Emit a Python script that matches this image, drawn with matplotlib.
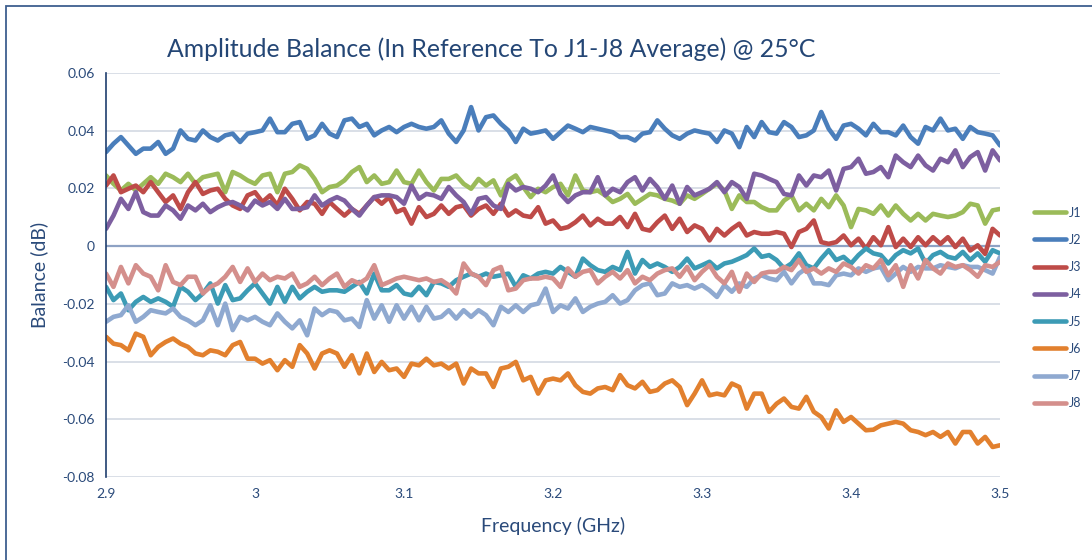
import numpy as np
import matplotlib
matplotlib.use('Agg')
import matplotlib.pyplot as plt
from matplotlib.patches import Rectangle

# frequency sweep 2.9 - 3.5 GHz (121 pts)
freq = np.linspace(2.9, 3.5, 121)

j1 = [0.0245, 0.0216, 0.0193, 0.0216, 0.0193, 0.0216, 0.0239, 0.0216, 0.0251, 0.0239,
      0.0222, 0.0251, 0.0216, 0.0239, 0.0245, 0.0251, 0.0187, 0.0257, 0.0245, 0.0228,
      0.0216, 0.0245, 0.0251, 0.0187, 0.0251, 0.0257, 0.0280, 0.0268, 0.0233, 0.0187,
      0.0205, 0.0210, 0.0228, 0.0257, 0.0274, 0.0222, 0.0245, 0.0216, 0.0222, 0.0262,
      0.0222, 0.0216, 0.0262, 0.0222, 0.0193, 0.0233, 0.0233, 0.0245, 0.0216, 0.0199,
      0.0233, 0.0210, 0.0228, 0.0176, 0.0228, 0.0245, 0.0205, 0.0170, 0.0199, 0.0187,
      0.0205, 0.0216, 0.0176, 0.0245, 0.0193, 0.0187, 0.0193, 0.0176, 0.0153, 0.0164,
      0.0181, 0.0147, 0.0164, 0.0181, 0.0176, 0.0164, 0.0158, 0.0147, 0.0176, 0.0164,
      0.0181, 0.0199, 0.0216, 0.0193, 0.0129, 0.0176, 0.0153, 0.0153, 0.0135, 0.0124,
      0.0124, 0.0158, 0.0176, 0.0124, 0.0147, 0.0124, 0.0164, 0.0135, 0.0176, 0.0141,
      0.0066, 0.0129, 0.0124, 0.0112, 0.0141, 0.0106, 0.0141, 0.0112, 0.0089, 0.0112,
      0.0089, 0.0112, 0.0106, 0.0101, 0.0106, 0.0118, 0.0147, 0.0141, 0.0078, 0.0124,
      0.0129]

j2 = [0.0326, 0.0355, 0.0378, 0.0349, 0.0320, 0.0338, 0.0338, 0.0361, 0.0320, 0.0338,
      0.0401, 0.0372, 0.0366, 0.0401, 0.0378, 0.0366, 0.0384, 0.0390, 0.0361, 0.0390,
      0.0395, 0.0401, 0.0442, 0.0395, 0.0395, 0.0424, 0.0430, 0.0372, 0.0384, 0.0424,
      0.0390, 0.0378, 0.0436, 0.0442, 0.0413, 0.0424, 0.0384, 0.0401, 0.0413, 0.0395,
      0.0413, 0.0424, 0.0413, 0.0407, 0.0413, 0.0436, 0.0390, 0.0361, 0.0401, 0.0482,
      0.0401, 0.0447, 0.0453, 0.0424, 0.0401, 0.0361, 0.0407, 0.0390, 0.0395, 0.0401,
      0.0372, 0.0395, 0.0418, 0.0407, 0.0395, 0.0413, 0.0407, 0.0401, 0.0395, 0.0378,
      0.0378, 0.0366, 0.0390, 0.0395, 0.0436, 0.0407, 0.0384, 0.0372, 0.0390, 0.0401,
      0.0395, 0.0390, 0.0361, 0.0401, 0.0390, 0.0343, 0.0413, 0.0378, 0.0430, 0.0395,
      0.0390, 0.0430, 0.0413, 0.0378, 0.0384, 0.0401, 0.0465, 0.0407, 0.0372, 0.0418,
      0.0424, 0.0407, 0.0384, 0.0424, 0.0395, 0.0395, 0.0384, 0.0418, 0.0378, 0.0355,
      0.0413, 0.0401, 0.0442, 0.0401, 0.0407, 0.0372, 0.0413, 0.0395, 0.0390, 0.0384,
      0.0349]

j3 = [0.0210, 0.0245, 0.0187, 0.0199, 0.0210, 0.0187, 0.0222, 0.0187, 0.0153, 0.0176,
      0.0129, 0.0187, 0.0222, 0.0181, 0.0193, 0.0199, 0.0164, 0.0141, 0.0129, 0.0176,
      0.0187, 0.0153, 0.0176, 0.0141, 0.0199, 0.0164, 0.0124, 0.0153, 0.0147, 0.0112,
      0.0153, 0.0129, 0.0106, 0.0129, 0.0112, 0.0141, 0.0170, 0.0147, 0.0170, 0.0118,
      0.0129, 0.0078, 0.0135, 0.0101, 0.0112, 0.0141, 0.0112, 0.0135, 0.0141, 0.0106,
      0.0129, 0.0141, 0.0112, 0.0147, 0.0106, 0.0124, 0.0106, 0.0101, 0.0135, 0.0078,
      0.0089, 0.0060, 0.0066, 0.0083, 0.0106, 0.0072, 0.0095, 0.0078, 0.0078, 0.0101,
      0.0066, 0.0112, 0.0060, 0.0054, 0.0083, 0.0106, 0.0060, 0.0095, 0.0049, 0.0072,
      0.0060, 0.0020, 0.0060, 0.0037, 0.0060, 0.0078, 0.0037, 0.0049, 0.0043, 0.0043,
      0.0049, 0.0043, -0.0003, 0.0049, 0.0060, 0.0089, 0.0014, 0.0008, 0.0014, 0.0037,
      0.0003, 0.0026, -0.0009, 0.0031, 0.0003, 0.0066, -0.0003, 0.0026, -0.0003, 0.0031,
      0.0003, 0.0031, 0.0008, 0.0031, -0.0003, 0.0026, -0.0015, 0.0003, -0.0027, 0.0060,
      0.0037]

j4 = [0.0060, 0.0106, 0.0164, 0.0129, 0.0187, 0.0118, 0.0106, 0.0106, 0.0141, 0.0124,
      0.0095, 0.0141, 0.0124, 0.0147, 0.0118, 0.0135, 0.0147, 0.0153, 0.0141, 0.0124,
      0.0158, 0.0141, 0.0153, 0.0129, 0.0164, 0.0129, 0.0129, 0.0135, 0.0176, 0.0141,
      0.0158, 0.0170, 0.0158, 0.0129, 0.0106, 0.0141, 0.0170, 0.0176, 0.0176, 0.0170,
      0.0147, 0.0210, 0.0164, 0.0181, 0.0176, 0.0164, 0.0205, 0.0176, 0.0153, 0.0112,
      0.0164, 0.0170, 0.0141, 0.0129, 0.0216, 0.0193, 0.0205, 0.0199, 0.0187, 0.0210,
      0.0245, 0.0181, 0.0153, 0.0176, 0.0187, 0.0187, 0.0239, 0.0176, 0.0199, 0.0187,
      0.0222, 0.0239, 0.0193, 0.0233, 0.0205, 0.0164, 0.0210, 0.0147, 0.0205, 0.0176,
      0.0187, 0.0199, 0.0222, 0.0187, 0.0222, 0.0205, 0.0164, 0.0251, 0.0245, 0.0233,
      0.0222, 0.0181, 0.0176, 0.0245, 0.0210, 0.0245, 0.0239, 0.0262, 0.0193, 0.0268,
      0.0274, 0.0303, 0.0251, 0.0257, 0.0274, 0.0239, 0.0314, 0.0291, 0.0274, 0.0314,
      0.0280, 0.0262, 0.0303, 0.0291, 0.0332, 0.0274, 0.0309, 0.0326, 0.0262, 0.0332,
      0.0297]

j5 = [-0.0141, -0.0187, -0.0164, -0.0222, -0.0193, -0.0176, -0.0193, -0.0181, -0.0193, -0.0210,
      -0.0141, -0.0158, -0.0187, -0.0164, -0.0129, -0.0199, -0.0135, -0.0187, -0.0181, -0.0153,
      -0.0129, -0.0164, -0.0199, -0.0141, -0.0193, -0.0141, -0.0181, -0.0158, -0.0141, -0.0158,
      -0.0153, -0.0153, -0.0158, -0.0141, -0.0124, -0.0164, -0.0095, -0.0153, -0.0153, -0.0135,
      -0.0164, -0.0170, -0.0141, -0.0170, -0.0124, -0.0129, -0.0141, -0.0118, -0.0106, -0.0095,
      -0.0106, -0.0095, -0.0106, -0.0101, -0.0095, -0.0141, -0.0101, -0.0112, -0.0095, -0.0089,
      -0.0095, -0.0072, -0.0089, -0.0106, -0.0043, -0.0066, -0.0083, -0.0089, -0.0072, -0.0083,
      -0.0020, -0.0095, -0.0048, -0.0072, -0.0060, -0.0072, -0.0089, -0.0072, -0.0043, -0.0077,
      -0.0066, -0.0054, -0.0077, -0.0060, -0.0054, -0.0043, -0.0031, -0.0008, -0.0037, -0.0031,
      -0.0048, -0.0077, -0.0060, -0.0025, -0.0066, -0.0077, -0.0043, -0.0014, -0.0048, -0.0037,
      -0.0060, -0.0031, -0.0008, -0.0025, -0.0031, -0.0060, -0.0031, -0.0014, -0.0025, -0.0008,
      -0.0060, -0.0031, -0.0020, -0.0037, -0.0043, -0.0020, -0.0048, -0.0025, -0.0054, -0.0014,
      -0.0025]

j6 = [-0.0314, -0.0338, -0.0343, -0.0361, -0.0303, -0.0314, -0.0378, -0.0349, -0.0332, -0.0320,
      -0.0338, -0.0349, -0.0372, -0.0378, -0.0361, -0.0366, -0.0378, -0.0343, -0.0332, -0.0390,
      -0.0390, -0.0407, -0.0395, -0.0430, -0.0395, -0.0418, -0.0343, -0.0372, -0.0424, -0.0372,
      -0.0361, -0.0372, -0.0418, -0.0378, -0.0441, -0.0372, -0.0436, -0.0401, -0.0430, -0.0424,
      -0.0453, -0.0407, -0.0413, -0.0390, -0.0413, -0.0407, -0.0424, -0.0407, -0.0476, -0.0424,
      -0.0441, -0.0441, -0.0488, -0.0424, -0.0418, -0.0401, -0.0465, -0.0453, -0.0511, -0.0465,
      -0.0459, -0.0465, -0.0441, -0.0482, -0.0505, -0.0511, -0.0493, -0.0488, -0.0499, -0.0447,
      -0.0482, -0.0493, -0.0470, -0.0505, -0.0499, -0.0476, -0.0465, -0.0488, -0.0551, -0.0511,
      -0.0465, -0.0517, -0.0511, -0.0517, -0.0476, -0.0488, -0.0563, -0.0511, -0.0511, -0.0574,
      -0.0546, -0.0528, -0.0557, -0.0563, -0.0522, -0.0574, -0.0592, -0.0632, -0.0569, -0.0609,
      -0.0592, -0.0615, -0.0638, -0.0636, -0.0621, -0.0615, -0.0609, -0.0615, -0.0638, -0.0644,
      -0.0655, -0.0644, -0.0661, -0.0644, -0.0684, -0.0644, -0.0644, -0.0684, -0.0661, -0.0696,
      -0.0690]

j7 = [-0.0262, -0.0245, -0.0239, -0.0205, -0.0262, -0.0245, -0.0222, -0.0228, -0.0233, -0.0216,
      -0.0245, -0.0257, -0.0274, -0.0257, -0.0205, -0.0274, -0.0199, -0.0291, -0.0245, -0.0257,
      -0.0245, -0.0262, -0.0274, -0.0233, -0.0262, -0.0285, -0.0257, -0.0309, -0.0216, -0.0239,
      -0.0222, -0.0228, -0.0257, -0.0251, -0.0280, -0.0187, -0.0251, -0.0205, -0.0262, -0.0205,
      -0.0251, -0.0210, -0.0257, -0.0210, -0.0251, -0.0245, -0.0222, -0.0251, -0.0222, -0.0245,
      -0.0222, -0.0239, -0.0274, -0.0210, -0.0228, -0.0205, -0.0228, -0.0205, -0.0199, -0.0147,
      -0.0228, -0.0205, -0.0216, -0.0181, -0.0228, -0.0210, -0.0199, -0.0193, -0.0170, -0.0199,
      -0.0187, -0.0153, -0.0135, -0.0129, -0.0170, -0.0164, -0.0129, -0.0141, -0.0135, -0.0147,
      -0.0135, -0.0153, -0.0176, -0.0135, -0.0158, -0.0129, -0.0141, -0.0112, -0.0101, -0.0112,
      -0.0118, -0.0089, -0.0129, -0.0095, -0.0077, -0.0129, -0.0129, -0.0135, -0.0101, -0.0095,
      -0.0101, -0.0077, -0.0089, -0.0077, -0.0072, -0.0118, -0.0095, -0.0072, -0.0089, -0.0072,
      -0.0077, -0.0077, -0.0066, -0.0072, -0.0077, -0.0066, -0.0072, -0.0072, -0.0083, -0.0095,
      -0.0037]

j8 = [-0.0095, -0.0141, -0.0072, -0.0129, -0.0066, -0.0095, -0.0106, -0.0153, -0.0066, -0.0124,
      -0.0135, -0.0106, -0.0106, -0.0164, -0.0141, -0.0129, -0.0106, -0.0072, -0.0124, -0.0077,
      -0.0124, -0.0095, -0.0118, -0.0106, -0.0112, -0.0095, -0.0141, -0.0129, -0.0106, -0.0135,
      -0.0112, -0.0095, -0.0141, -0.0118, -0.0129, -0.0112, -0.0066, -0.0135, -0.0124, -0.0112,
      -0.0106, -0.0112, -0.0118, -0.0112, -0.0124, -0.0118, -0.0135, -0.0164, -0.0060, -0.0095,
      -0.0106, -0.0135, -0.0083, -0.0072, -0.0153, -0.0147, -0.0118, -0.0112, -0.0112, -0.0106,
      -0.0112, -0.0141, -0.0077, -0.0106, -0.0089, -0.0083, -0.0129, -0.0106, -0.0089, -0.0112,
      -0.0083, -0.0129, -0.0106, -0.0118, -0.0095, -0.0083, -0.0077, -0.0106, -0.0072, -0.0118,
      -0.0089, -0.0066, -0.0106, -0.0129, -0.0089, -0.0158, -0.0095, -0.0124, -0.0095, -0.0089,
      -0.0089, -0.0072, -0.0083, -0.0048, -0.0089, -0.0077, -0.0095, -0.0077, -0.0089, -0.0060,
      -0.0072, -0.0095, -0.0066, -0.0077, -0.0048, -0.0101, -0.0066, -0.0141, -0.0066, -0.0112,
      -0.0048, -0.0077, -0.0095, -0.0060, -0.0072, -0.0066, -0.0083, -0.0106, -0.0066, -0.0072,
      -0.0054]

labels = ['J1', 'J2', 'J3', 'J4', 'J5', 'J6', 'J7', 'J8']
colors = ['#9BBB59', '#4A7EBB', '#BE4B48', '#7D5FA0', '#3C9BB5', '#E2802E', '#8FA9D0', '#D48F8C']

yticks = [0.06, 0.04, 0.02, 0, -0.02, -0.04, -0.06, -0.08]
ytick_labels = ['0.06', '0.04', '0.02', '0', '-0.02', '-0.04', '-0.06', '-0.08']
xticks = [2.9, 3.0, 3.1, 3.2, 3.3, 3.4, 3.5]
xtick_labels = ['2.9', '3', '3.1', '3.2', '3.3', '3.4', '3.5']

plt.rcParams['font.family'] = ['Lato', 'DejaVu Sans']
txt_col = '#2A4A7A'

fig = plt.figure(figsize=(10.92, 5.60), dpi=100)
ax = fig.add_axes([0.0971, 0.1482, 0.8187, 0.7214])

series = [j1, j2, j3, j4, j5, j6, j7, j8]
for vals, lab, col in zip(series, labels, colors):
    ax.plot(freq, vals, color=col, lw=3.3, label=lab,
            solid_joinstyle='round', solid_capstyle='round')

ax.set_xlim(2.9, 3.5)
ax.set_ylim(-0.08, 0.06)
ax.set_yticks(yticks)
ax.set_yticklabels(ytick_labels)
ax.set_xticks(xticks)
ax.set_xticklabels(xtick_labels)
ax.tick_params(length=0, labelsize=10, colors=txt_col, pad=8)
ax.grid(axis='y', color='#D3D9E3', lw=1.2)
ax.set_axisbelow(True)
ax.axhline(0, color='#8EA2C4', lw=1.6, zorder=1.5)

for s in ['top', 'right', 'bottom']:
    ax.spines[s].set_visible(False)
ax.spines['left'].set_color('#1F3E6E')
ax.spines['left'].set_linewidth(1.2)

ax.set_xlabel('Frequency (GHz)', fontsize=14, color=txt_col, labelpad=12)
ax.set_ylabel('Balance (dB)', fontsize=14, color=txt_col, labelpad=10)

fig.text(0.45, 0.913, 'Amplitude Balance (In Reference To J1-J8 Average) @ 25°C',
         ha='center', va='center', fontsize=17.8, color='#244675')

fig.legend(loc='upper left', bbox_to_anchor=(0.942, 0.64), frameon=False,
           fontsize=9, labelcolor=txt_col, handlelength=2.6, handletextpad=0.2,
           labelspacing=1.22, borderaxespad=0)

# outer chart border (only left/top visible in the crop)
fig.patches.append(Rectangle((0.0055, -0.1), 1.2, 1.089, transform=fig.transFigure,
                             fill=False, edgecolor='#3E5F8F', lw=1.3))

fig.savefig('out.png', dpi=100)
